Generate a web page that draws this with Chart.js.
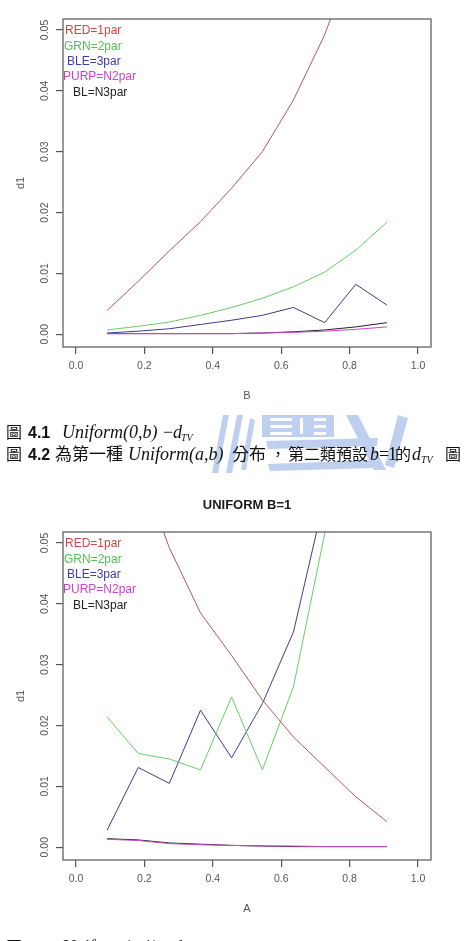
<!DOCTYPE html>
<html>
<head>
<meta charset="utf-8">
<script src="https://cdn.jsdelivr.net/npm/chart.js@4/dist/chart.umd.min.js"></script>
<style>
    body { margin: 0; width: 465px; height: 941px; overflow: hidden; background: #fff; position: relative; }
    canvas { position: absolute; left: 0; }
    #c1 { top: 0; }
    #c2 { top: 480px; }
    .cap { position: absolute; left: 6px; white-space: nowrap; font-size: 16px; line-height: 20px; color: #111; z-index: 2; }
    .cap span { display: inline-block; }
    .cjk { font-family: "Noto Sans CJK TC", sans-serif; }
    .num { font-family: "Liberation Sans", Arial, sans-serif; font-weight: bold; }
    .it { font-family: "Liberation Serif", "Times New Roman", serif; font-style: italic; font-size: 18px; }
    .rm { font-family: "Liberation Serif", "Times New Roman", serif; font-size: 18px; }
    .sub { font-family: "Liberation Serif", serif; font-style: italic; font-size: 10px; vertical-align: -3px; }
    #wm { position: absolute; left: 0; top: 0; z-index: 1; opacity: 0.75; }
</style>
</head>
<body>
<canvas id="c1" width="465" height="410"></canvas>
<canvas id="c2" width="465" height="440"></canvas>

<svg id="wm" width="465" height="941">
    <g fill="#a9bfea">
        <polygon points="223,415 229,415 218,473 212,473"/>
        <polygon points="237,415 243,415 232,473 226,473"/>
        <polygon points="250,418 255,420 246,470 241,470"/>
        <rect x="262" y="415" width="72" height="22"/>
        <polygon points="266,441 378,438 377,446 268,449"/>
        <polygon points="268,464 376,460 375,468 270,471"/>
        <polygon points="346,415 358,415 386,470 374,470"/>
        <polygon points="398,415 408,418 394,468 385,465"/>
    </g>
    <g fill="#fff">
        <rect x="270" y="418" width="22" height="3"/>
        <rect x="270" y="425" width="22" height="3"/>
        <rect x="270" y="432" width="22" height="3"/>
        <rect x="300" y="418" width="3" height="16"/>
        <rect x="314" y="418" width="12" height="3"/>
        <rect x="314" y="425" width="12" height="3"/>
        <rect x="314" y="432" width="12" height="3"/>
    </g>
</svg>

<div class="cap" style="top:421px">
    <span class="cjk" style="width:22px">圖</span><span class="num" style="width:34px">4.1</span><span class="it" style="width:101px">Uniform<span class="rm">(0,</span>b<span class="rm">)</span></span><span class="rm" style="width:10px">−</span><span class="it" style="width:8px">d</span><span class="sub">TV</span>
</div>
<div class="cap" style="top:443px">
    <span class="cjk" style="width:22px">圖</span><span class="num" style="width:27px">4.2</span><span class="cjk" style="width:73px;font-size:17px">為第一種</span><span class="it" style="width:104px">Uniform<span class="rm">(</span>a<span class="rm">,</span>b<span class="rm">)</span></span><span class="cjk" style="width:38px;font-size:17px">分布</span><span class="cjk" style="width:18px">，</span><span class="cjk" style="width:82px">第二類預設</span><span class="it" style="width:9px">b</span><span class="rm" style="width:9px">=</span><span class="rm" style="width:7px">1</span><span class="cjk" style="width:17px">的</span><span class="it" style="width:9px">d</span><span class="sub" style="width:24px">TV</span><span class="cjk">圖</span>
</div>
<div class="cap" style="top:936px">
    <span class="cjk" style="width:22px">圖</span><span class="num" style="width:34px">4.3</span><span class="it" style="width:101px">Uniform<span class="rm">(</span>a<span class="rm">,1)</span></span><span class="rm" style="width:10px">−</span><span class="it" style="width:8px">d</span><span class="sub">TV</span>
</div>

<script>
// x positions of the evaluated parameter (B in plot 1, A in plot 2)
const xVals = [0.091, 0.182, 0.273, 0.364, 0.455, 0.545, 0.636, 0.727, 0.818, 0.909];

// plot 1: UNIFORM A=0, d1 against B
const red1 = [0.0039, 0.0087, 0.0137, 0.0185, 0.0240, 0.0300, 0.0385, 0.0492, 0.063, 0.081];
const grn1 = [0.0007, 0.0013, 0.0020, 0.0031, 0.0044, 0.0059, 0.0078, 0.0102, 0.0138, 0.0184];
const ble1 = [0.0002, 0.0005, 0.0009, 0.0016, 0.0023, 0.0031, 0.0044, 0.0019, 0.0082, 0.0048];
const purp1 = [0.0001, 0.0001, 0.0001, 0.0001, 0.0001, 0.0002, 0.0003, 0.0005, 0.0008, 0.0012];
const bl1 = [0.0001, 0.0001, 0.0001, 0.0001, 0.0001, 0.0002, 0.0004, 0.0007, 0.0012, 0.0019];

// plot 2: UNIFORM B=1, d1 against A
const red2 = [0.078, 0.063, 0.0492, 0.0385, 0.0315, 0.0242, 0.0181, 0.0132, 0.0083, 0.0042];
const grn2 = [0.0214, 0.0154, 0.0145, 0.0127, 0.0247, 0.0127, 0.0264, 0.0515, 0.09, 0.14];
const ble2 = [0.0028, 0.0131, 0.0105, 0.0225, 0.0147, 0.0236, 0.0354, 0.0575, 0.1, 0.15];
const purp2 = [0.0013, 0.0011, 0.0006, 0.0004, 0.0003, 0.0002, 0.0002, 0.0001, 0.0001, 0.0001];
const bl2 = [0.0014, 0.0012, 0.0007, 0.0005, 0.0003, 0.0002, 0.0001, 0.0001, 0.0001, 0.0001];

const xTicks = [0, 0.2, 0.4, 0.6, 0.8, 1.0];
const xTickLabels = ['0.0', '0.2', '0.4', '0.6', '0.8', '1.0'];
const yTicks = [0, 0.01, 0.02, 0.03, 0.04, 0.05];
const yTickLabels = ['0.00', '0.01', '0.02', '0.03', '0.04', '0.05'];

const legendNames = ['RED=1par', 'GRN=2par', 'BLE=3par', 'PURP=N2par', 'BL=N3par'];
const lineColors = ['#a85c5c', '#66cc66', '#3c3c8c', '#c848c8', '#222222'];
const legendColors = ['#cc4848', '#55c055', '#3c3cac', '#d040d0', '#222222'];
const legendDx = [2, 1, 4, 0, 10];

const font = '"Liberation Sans", Arial, sans-serif';

// draws the R style frame, rotated y labels, titles and the text legend
const rPlot = {
    id: 'rPlot',
    afterDraw(chart, args, opts) {
        const { ctx, chartArea: a, scales: { y } } = chart;
        const cx = (a.left + a.right) / 2;
        ctx.save();
        ctx.strokeStyle = '#555';
        ctx.lineWidth = 1.2;
        ctx.strokeRect(a.left, a.top, a.right - a.left, a.bottom - a.top);

        ctx.fillStyle = '#555';
        ctx.font = '10.5px ' + font;
        ctx.textAlign = 'center';
        ctx.textBaseline = 'middle';
        yTicks.forEach((v, i) => {
            ctx.save();
            ctx.translate(a.left - 18, y.getPixelForValue(v));
            ctx.rotate(-Math.PI / 2);
            ctx.fillText(yTickLabels[i], 0, 0);
            ctx.restore();
        });

        ctx.font = '11px ' + font;
        ctx.fillText(opts.xTitle, cx, a.bottom + 49);
        ctx.save();
        ctx.translate(21, (a.top + a.bottom) / 2);
        ctx.rotate(-Math.PI / 2);
        ctx.fillText('d1', 0, 0);
        ctx.restore();

        ctx.fillStyle = '#1a1a1a';
        ctx.font = 'bold 13px ' + font;
        ctx.fillText(opts.title, cx, a.top - 27);

        ctx.font = '12px ' + font;
        ctx.textAlign = 'left';
        legendNames.forEach((t, i) => {
            ctx.fillStyle = legendColors[i];
            ctx.fillText(t, a.left + legendDx[i], a.top + 12 + i * 15.3);
        });
        ctx.restore();
    }
};

function makeChart(id, series, title, xTitle, topPad, xAxisH) {
    const datasets = series.map((s, i) => ({
        label: legendNames[i],
        data: s.map((v, j) => ({ x: xVals[j], y: v })),
        borderColor: lineColors[i],
        borderWidth: 1,
        pointRadius: 0,
        tension: 0,
        fill: false
    }));
    return new Chart(document.getElementById(id), {
        type: 'line',
        data: { datasets },
        plugins: [rPlot],
        options: {
            responsive: false,
            animation: false,
            devicePixelRatio: 1,
            layout: { padding: { top: topPad, right: 34, left: 0, bottom: 0 } },
            plugins: {
                legend: { display: false },
                tooltip: { enabled: false },
                rPlot: { title, xTitle }
            },
            scales: {
                x: {
                    type: 'linear',
                    min: -0.038,
                    max: 1.038,
                    afterBuildTicks: s => { s.ticks = xTicks.map(value => ({ value })); },
                    afterFit: s => { s.height = xAxisH; },
                    grid: { drawOnChartArea: false, drawTicks: true, tickLength: 7, color: '#555', lineWidth: 1.2 },
                    border: { display: false },
                    ticks: {
                        callback: (v, i) => xTickLabels[i],
                        font: { family: font, size: 10.5 },
                        color: '#555',
                        padding: 6,
                        maxRotation: 0,
                        autoSkip: false
                    }
                },
                y: {
                    min: -0.0021,
                    max: 0.0518,
                    afterBuildTicks: s => { s.ticks = yTicks.map(value => ({ value })); },
                    afterFit: s => { s.width = 63; },
                    grid: { drawOnChartArea: false, drawTicks: true, tickLength: 7, color: '#555', lineWidth: 1.2 },
                    border: { display: false },
                    ticks: { color: 'rgba(0,0,0,0)', font: { size: 10 } }
                }
            }
        }
    });
}

makeChart('c1', [red1, grn1, ble1, purp1, bl1], 'UNIFORM A=0', 'B', 19, 63);
makeChart('c2', [red2, grn2, ble2, purp2, bl2], 'UNIFORM B=1', 'A', 52, 60);
</script>
</body>
</html>
